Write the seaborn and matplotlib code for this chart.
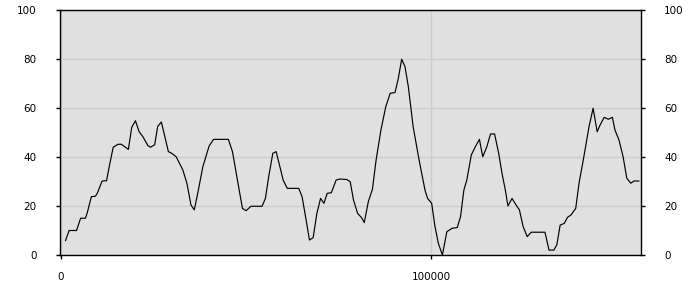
import matplotlib
matplotlib.use("Agg")
import matplotlib.pyplot as plt
import seaborn as sns
import pandas as pd

# Series (x in data units, y in percent)
x_values = [1200, 2200, 4200, 5300, 6600, 7100, 8200, 9300, 9800, 11100,
            12300, 13200, 14100, 15400, 16300, 18200, 19100, 20100, 21100, 22100,
            23500, 24200, 25300, 26100, 27100, 29000, 29900, 31100, 32900, 34000,
            35100, 36000, 37100, 38300, 40000, 41200, 45200, 46300, 47500, 49000,
            50000, 51300, 54300, 55200, 56100, 57200, 58100, 59100, 60000, 61100,
            64200, 65100, 66200, 67100, 68100, 69100, 70100, 71000, 71900, 73000,
            74300, 75300, 77200, 78100, 79000, 80100, 81200, 81900, 83000, 84100,
            85100, 86400, 87700, 88900, 90200, 91100, 92000, 92900, 93800, 95100,
            96700, 98300, 99000, 100100, 101000, 101900, 103000, 104200, 105600, 107000,
            107900, 108800, 109600, 110800, 111900, 113000, 113900, 115000, 116000, 117100,
            118200, 119100, 120000, 120700, 121800, 122900, 123800, 124800, 125900, 127000,
            130700, 131800, 133100, 133900, 134800, 135900, 136800, 137700, 139000, 139900,
            141200, 142600, 143700, 144800, 145600, 146700, 147800, 148900, 149600, 150700,
            151800, 152800, 153900, 154700, 156100]
y_values = [5.8, 10.0, 10.0, 15.0, 15.0, 17.3, 23.8, 24.0, 25.2, 30.2,
            30.3, 37.4, 44.0, 45.2, 45.2, 43.1, 52.1, 54.8, 50.3, 48.3,
            44.6, 44.0, 45.0, 52.4, 54.3, 42.2, 41.5, 40.1, 34.7, 29.3,
            20.4, 18.4, 26.5, 36.0, 44.5, 47.2, 47.2, 42.2, 32.0, 19.0,
            18.1, 19.9, 19.9, 23.1, 32.0, 41.5, 42.2, 36.0, 30.6, 27.2,
            27.2, 23.8, 14.3, 6.1, 7.1, 17.0, 23.1, 21.1, 25.2, 25.4,
            30.6, 31.0, 30.8, 29.9, 22.4, 17.0, 15.2, 13.2, 21.8, 26.8,
            38.8, 51.0, 60.5, 66.0, 66.3, 72.1, 79.9, 76.9, 68.7, 52.4,
            38.8, 26.5, 23.1, 21.1, 11.6, 4.8, 0.0, 9.5, 10.9, 11.2,
            15.6, 26.5, 30.6, 40.8, 44.2, 47.2, 40.1, 44.2, 49.4, 49.4,
            41.5, 33.3, 26.5, 20.0, 23.1, 20.4, 18.4, 11.6, 7.5, 9.3,
            9.3, 2.0, 2.0, 4.1, 12.2, 12.9, 15.4, 16.3, 19.0, 29.3,
            40.1, 52.4, 59.9, 50.3, 53.1, 56.2, 55.4, 56.2, 51.0, 46.9,
            40.1, 31.3, 29.3, 30.2, 30.2]
y_ticks = [0, 20, 40, 60, 80, 100]
x_ticks = [0, 100000]
x_tick_labels = ["0", "100000"]

df = pd.DataFrame({"x": x_values, "y": y_values})

sns.set_theme(style="white", rc={
    "axes.facecolor": "#e0e0e0",
    "axes.edgecolor": "black",
    "axes.linewidth": 1.0,
    "grid.color": "#cccccc",
    "grid.linewidth": 1.0,
    "text.color": "black",
    "xtick.color": "black",
    "ytick.color": "black",
})
plt.rcParams["font.family"] = ["DejaVu Sans"]

fig = plt.figure(figsize=(7, 3), dpi=100)
ax = fig.add_axes([60 / 700, 45 / 300, 580.5 / 700, 245 / 300])

sns.lineplot(data=df, x="x", y="y", ax=ax, color="black", linewidth=0.85,
             estimator=None, sort=False)

ax.set_xlim(-270, 156500)
ax.set_ylim(0, 100)
ax.set_yticks(y_ticks)
ax.set_xticks(x_ticks)
ax.set_xticklabels(x_tick_labels)
ax.set_xlabel("")
ax.set_ylabel("")

ax.grid(True, axis="both", color="#cccccc", linewidth=1.0)
ax.set_axisbelow(True)
for s in ax.spines.values():
    s.set_visible(True)
    s.set_color("black")
    s.set_linewidth(1.0)

ax.tick_params(axis="y", which="both", left=True, right=True,
               labelleft=True, labelright=True, direction="out",
               length=3, width=1, color="black", labelcolor="black",
               labelsize=7.5, pad=14)
ax.tick_params(axis="x", which="both", bottom=True, direction="out",
               length=3, width=1, color="black", labelcolor="black",
               labelsize=7.5, pad=9)

fig.savefig("out.png", dpi=100, facecolor="white")
